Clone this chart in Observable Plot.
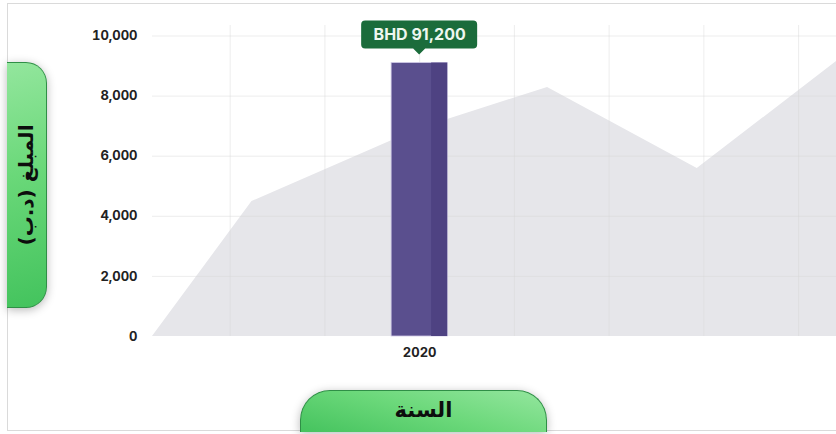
<!DOCTYPE html>
<html>
<head>
<meta charset="utf-8">
<script src="https://cdn.jsdelivr.net/npm/d3@7"></script>
<script src="https://cdn.jsdelivr.net/npm/@observablehq/plot@0.6"></script>
<style>
  html, body { margin: 0; padding: 0; background: #fff; }
  #wrap { position: relative; width: 836px; height: 434px; overflow: hidden; background: #fff; }
  #card { position: absolute; left: 7px; top: 3px; width: 860px; height: 428px; border: 1px solid #dadada; box-sizing: border-box; }
  #chart { position: absolute; left: 0; top: 0; }
  .pill { position: absolute; display: flex; align-items: center; justify-content: center;
          box-shadow: 0 2px 10px rgba(0,0,0,0.28); color: #0d0d0d;
          font-family: "DejaVu Sans", sans-serif; font-weight: bold; }
  #pillY { left: 7px; top: 62px; width: 40px; height: 246px; border-radius: 0 21px 21px 0;
           background: linear-gradient(165deg, #93e69d 0%, #6ad879 45%, #43c35d 100%);
           border: 1px solid #2f8f46; border-left: none; box-sizing: border-box; }
  #pillY span { transform: rotate(-90deg); white-space: nowrap; font-size: 20px; display: inline-block; }
  #pillX { left: 300px; top: 390px; width: 247px; height: 42px; border-radius: 30px 30px 0 0;
           background: linear-gradient(15deg, #45c35e 0%, #6bd87a 50%, #94e69e 100%);
           border: 1px solid #2f8f46; border-bottom: none; box-sizing: border-box; }
  #pillX span { font-size: 21px; margin-top: -4px; }
</style>
</head>
<body>
<div id="wrap">
  <div id="card"></div>
  <div id="chart"></div>
  <div class="pill" id="pillY"><span dir="rtl">المبلغ (د.ب)</span></div>
  <div class="pill" id="pillX"><span dir="rtl">السنة</span></div>
</div>
<script>
// ---- data ----
const barYears = [2020];
const barValues = [9100];
const tipLabels = ["BHD 91,200"];
const areaX = [2017.18, 2018.23, 2020, 2021.35, 2022.93, 2024.4];
const areaValues = [0, 4490, 6920, 8290, 5590, 9150];
const yTicks = [0, 2000, 4000, 6000, 8000, 10000];
const xTicks = [2020];
const xGridTicks = [2018, 2019, 2020, 2021, 2022, 2023, 2024];

// ---- styling constants ----
const BAR_HALF = 0.296;   // half bar width in x units
const STRIP = 0.17;       // darker right strip width in x units

const area = areaX.map((x, i) => ({x, y: areaValues[i]}));
const bars = barYears.map((year, i) => ({year, value: barValues[i], label: tipLabels[i]}));

function tipBox(index, scales) {
  const g = d3.create("svg:g");
  for (const d of bars) {
    const cx = scales.x(d.year), top = scales.y(d.value);
    const w = 116, h = 28, r = 4, ph = 6, pw = 6;
    const y1 = top - 14, y0 = y1 - h, x0 = cx - w / 2, x1 = cx + w / 2;
    const p = `M${x0 + r},${y0} H${x1 - r} Q${x1},${y0} ${x1},${y0 + r} V${y1 - r} Q${x1},${y1} ${x1 - r},${y1}
      H${cx + pw} L${cx},${y1 + ph} L${cx - pw},${y1} H${x0 + r} Q${x0},${y1} ${x0},${y1 - r} V${y0 + r} Q${x0},${y0} ${x0 + r},${y0} Z`;
    g.append("path").attr("d", p).attr("fill", "#1b6c3b");
  }
  return g.node();
}

const chart = Plot.plot({
  width: 836,
  height: 434,
  marginLeft: 152,
  marginRight: 0,
  marginTop: 25,
  marginBottom: 98,
  x: {type: "linear", domain: [2017.18, 2024.4]},
  y: {domain: [0, 10350]},
  style: {background: "transparent", fontFamily: "Inter, 'DejaVu Sans', sans-serif", fontSize: "13px", fontWeight: 700, color: "#222"},
  marks: [
    Plot.areaY(area, {x: "x", y: "y", fill: "#e6e6ea"}),
    Plot.gridX(xGridTicks, {stroke: "#d8d8d8", strokeOpacity: 0.45}),
    Plot.gridY(yTicks.filter(t => t > 0), {stroke: "#d8d8d8", strokeOpacity: 0.45}),
    Plot.rectY(bars, {x1: d => d.year - BAR_HALF, x2: d => d.year + BAR_HALF, y: "value", fill: "#5a4f8e", stroke: "#cfc9e6", strokeWidth: 0.8}),
    Plot.rectY(bars, {x1: d => d.year + BAR_HALF - STRIP, x2: d => d.year + BAR_HALF, y: "value", fill: "#4e4282"}),
    tipBox,
    Plot.text(bars, {x: "year", y: "value", text: "label", dy: -28, fill: "#eef7ef", fontSize: 16, fontWeight: 700}),
    Plot.axisY(yTicks, {tickSize: 0, tickPadding: 15, tickFormat: d3.format(","), label: null}),
    Plot.axisX(xTicks, {tickSize: 0, tickPadding: 11, tickFormat: d => String(d), label: null})
  ]
});
document.getElementById("chart").appendChild(chart);
</script>
</body>
</html>
